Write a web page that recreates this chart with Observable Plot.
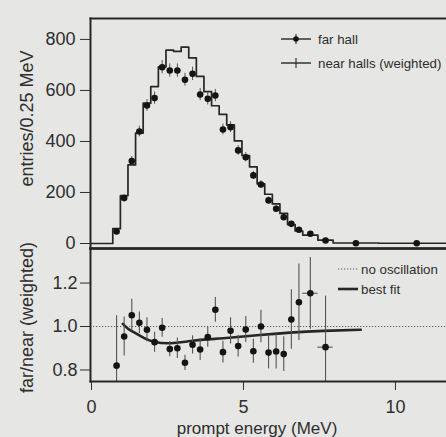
<!DOCTYPE html>
<html>
<head>
<meta charset="utf-8">
<script src="https://cdn.jsdelivr.net/npm/d3@7"></script>
<script src="https://cdn.jsdelivr.net/npm/@observablehq/plot@0.6"></script>
<style>
  html, body { margin: 0; padding: 0; background: #e6e6e4; }
  #wrap { position: relative; width: 446px; height: 437px; background: #e6e6e4; overflow: hidden; }
  #wrap > svg, #wrap > figure { position: absolute; left: 0; margin: 0; }
</style>
</head>
<body>
<div id="wrap"></div>
<script>
// ---- data ----
// near halls (weighted): step histogram, left bin edges and entries per 0.25 MeV
const nearEdges = [0, 0.7, 0.95, 1.2, 1.45, 1.7, 1.95, 2.2, 2.45, 2.7, 2.95, 3.2, 3.45, 3.7, 3.95, 4.2, 4.45, 4.7, 4.95, 5.2, 5.45, 5.7, 5.95, 6.2, 6.45, 6.7, 6.95, 7.45, 7.95, 9.45, 12];
const nearValues = [0, 58, 188, 308, 433, 550, 615, 692, 758, 753, 770, 728, 655, 595, 540, 506, 465, 402, 345, 300, 234, 193, 155, 118, 74, 49, 33, 13, 2, 1, 1];

// far hall points (bin centres), entries per 0.25 MeV, errors
const farX = [0.825, 1.075, 1.325, 1.575, 1.825, 2.075, 2.325, 2.575, 2.825, 3.075, 3.325, 3.575, 3.825, 4.075, 4.325, 4.575, 4.825, 5.075, 5.325, 5.575, 5.825, 6.075, 6.325, 6.575, 6.825, 7.2, 7.7, 8.7, 10.7];
const farValues = [47, 178, 323, 439, 541, 570, 691, 678, 678, 642, 665, 584, 567, 580, 447, 456, 365, 338, 267, 231, 169, 136, 103, 77, 54, 38, 12, 1, 1];
const farErr = [7, 13, 18, 21, 23, 24, 26, 26, 26, 25, 26, 24, 24, 24, 21, 21, 19, 18, 16, 15, 13, 12, 10, 9, 7, 6, 4, 1, 1];

// ratio far/near (weighted)
const ratioX = [0.825, 1.075, 1.325, 1.575, 1.825, 2.075, 2.325, 2.575, 2.825, 3.075, 3.325, 3.575, 3.825, 4.075, 4.325, 4.575, 4.825, 5.075, 5.325, 5.575, 5.825, 6.075, 6.325, 6.575, 6.825, 7.2, 7.7];
const ratioLo = [0.7, 0.95, 1.2, 1.45, 1.7, 1.95, 2.2, 2.45, 2.7, 2.95, 3.2, 3.45, 3.7, 3.95, 4.2, 4.45, 4.7, 4.95, 5.2, 5.45, 5.7, 5.95, 6.2, 6.45, 6.7, 6.95, 7.45];
const ratioHi = [0.95, 1.2, 1.45, 1.7, 1.95, 2.2, 2.45, 2.7, 2.95, 3.2, 3.45, 3.7, 3.95, 4.2, 4.45, 4.7, 4.95, 5.2, 5.45, 5.7, 5.95, 6.2, 6.45, 6.7, 6.95, 7.45, 7.95];
const ratioValues = [0.82, 0.954, 1.052, 1.017, 0.985, 0.928, 0.994, 0.896, 0.90, 0.833, 0.916, 0.894, 0.951, 1.077, 0.882, 0.98, 0.91, 0.986, 0.886, 1.0, 0.88, 0.885, 0.873, 1.032, 1.112, 1.153, 0.905];
const ratioErr = [0.23, 0.09, 0.073, 0.05, 0.055, 0.046, 0.043, 0.035, 0.047, 0.035, 0.042, 0.05, 0.046, 0.057, 0.05, 0.06, 0.05, 0.06, 0.055, 0.075, 0.075, 0.08, 0.08, 0.137, 0.176, 0.165, 0.235];

// best fit curve
const fitX = [1.03, 1.2, 1.39, 1.72, 2.05, 2.6, 3.26, 3.91, 4.34, 5.44, 6.53, 7.63, 8.86];
const fitY = [1.012, 0.99, 0.974, 0.948, 0.93, 0.923, 0.933, 0.942, 0.946, 0.96, 0.972, 0.98, 0.985];

// axes
const xTicks = [0, 5, 10];
const yTicksTop = [0, 200, 400, 600, 800];
const yTicksBottom = [0.8, 1.0, 1.2];

// ---- build tables ----
const nearRows = nearEdges.map((x, i) => ({x, y: nearValues[i]}));
const farRows = farX.map((x, i) => ({x, y: farValues[i], e: farErr[i]}));
const ratioRows = ratioX.map((x, i) => ({x, y: ratioValues[i], e: ratioErr[i], lo: ratioLo[i], hi: ratioHi[i]}));
const wideRows = ratioRows.filter(d => d.hi - d.lo > 0.3);
const fitRows = fitX.map((x, i) => ({x, y: fitY[i]}));

const xDomain = [-0.033, 11.68];
const ink = "#262626";
const baseStyle = {
  background: "none",
  overflow: "visible",
  fontFamily: "'Liberation Sans', Arial, sans-serif",
  fontSize: "18px",
  color: "#2e2e2e"
};

const topChart = Plot.plot({
  width: 446, height: 249,
  marginLeft: 90, marginRight: 0, marginTop: 18, marginBottom: 1,
  style: baseStyle,
  x: {domain: xDomain, axis: null},
  y: {domain: [-19.6, 882], ticks: yTicksTop, tickSize: 10, tickPadding: 5, label: null},
  marks: [
    Plot.line(nearRows, {x: "x", y: "y", curve: "step-after", stroke: ink, strokeWidth: 1.7, clip: true}),
    Plot.ruleX(farRows, {x: "x", y1: d => d.y - d.e, y2: d => d.y + d.e, stroke: "#555", strokeWidth: 1}),
    Plot.dot(farRows, {x: "x", y: "y", r: 3.3, fill: "#141414", stroke: "none"}),
    Plot.text(["entries/0.25 MeV"], {frameAnchor: "left", rotate: -90, dx: -63, dy: -15, textAnchor: "middle", lineAnchor: "middle", fontSize: 18, fill: "#2e2e2e"}),
    Plot.frame({anchor: "top", stroke: ink, strokeWidth: 2}),
    Plot.frame({anchor: "left", stroke: ink, strokeWidth: 2}),
    Plot.frame({anchor: "bottom", stroke: ink, strokeWidth: 2.4})
  ]
});
topChart.style.top = "0px";

const bottomChart = Plot.plot({
  width: 446, height: 197,
  marginLeft: 90, marginRight: 0, marginTop: 8, marginBottom: 56,
  style: baseStyle,
  x: {domain: xDomain, ticks: xTicks, tickSize: 9, tickPadding: 10, label: null},
  y: {domain: [0.747, 1.359], ticks: yTicksBottom, tickFormat: ".1f", tickSize: 10, tickPadding: 3, label: null},
  marks: [
    Plot.ruleY([1], {stroke: "#5a5a5a", strokeWidth: 1, strokeDasharray: "1.2,1.8"}),
    Plot.line(fitRows, {x: "x", y: "y", curve: "natural", stroke: ink, strokeWidth: 2.6}),
    Plot.ruleX(ratioRows, {x: "x", y1: d => d.y - d.e, y2: d => d.y + d.e, stroke: "#555", strokeWidth: 1.1, clip: true}),
    Plot.ruleY(wideRows, {y: "y", x1: "lo", x2: "hi", stroke: "#555", strokeWidth: 1.1}),
    Plot.dot(ratioRows, {x: "x", y: "y", r: 3.3, fill: "#141414", stroke: "none"}),
    Plot.text(["far/near (weighted)"], {frameAnchor: "left", rotate: -90, dx: -63, dy: 2.5, textAnchor: "middle", lineAnchor: "middle", fontSize: 18, fill: "#2e2e2e"}),
    Plot.text(["prompt energy (MeV)"], {frameAnchor: "bottom", dx: -11.5, dy: 52, textAnchor: "middle", lineAnchor: "bottom", fontSize: 17, fill: "#2e2e2e"}),
    Plot.frame({anchor: "top", stroke: ink, strokeWidth: 2}),
    Plot.frame({anchor: "left", stroke: ink, strokeWidth: 2}),
    Plot.frame({anchor: "bottom", stroke: ink, strokeWidth: 2.2})
  ]
});
bottomChart.style.top = "240px";

const wrap = document.getElementById("wrap");
wrap.appendChild(topChart);
wrap.appendChild(bottomChart);

// ---- legends (decoration) ----
const ns = "http://www.w3.org/2000/svg";
const leg = document.createElementNS(ns, "svg");
leg.setAttribute("width", 446);
leg.setAttribute("height", 437);
leg.style.position = "absolute";
leg.style.left = "0px";
leg.style.top = "0px";
leg.style.overflow = "visible";
leg.style.fontFamily = "'Liberation Sans', Arial, sans-serif";
function el(tag, attrs, text) {
  const e = document.createElementNS(ns, tag);
  for (const k in attrs) e.setAttribute(k, attrs[k]);
  if (text) e.textContent = text;
  leg.appendChild(e);
  return e;
}
const legendItems = [
  {label: "far hall", y: 39, kind: "far"},
  {label: "near halls (weighted)", y: 63, kind: "near"}
];
for (const it of legendItems) {
  el("line", {x1: 281, x2: 311, y1: it.y, y2: it.y, stroke: ink, "stroke-width": 1.4});
  el("line", {x1: 296, x2: 296, y1: it.y - 5, y2: it.y + 5, stroke: ink, "stroke-width": 1.1});
  if (it.kind === "far") el("circle", {cx: 296, cy: it.y, r: 2.8, fill: "#141414"});
  el("text", {x: 318, y: it.y, "font-size": 13.3, fill: "#2e2e2e", "dominant-baseline": "central"}, it.label);
}
el("line", {x1: 338, x2: 358, y1: 269, y2: 269, stroke: "#5a5a5a", "stroke-width": 1, "stroke-dasharray": "1.2,1.8"});
el("text", {x: 361, y: 269, "font-size": 13.3, fill: "#2e2e2e", "dominant-baseline": "central"}, "no oscillation");
el("line", {x1: 338, x2: 358, y1: 289, y2: 289, stroke: ink, "stroke-width": 2.6});
el("text", {x: 361, y: 289, "font-size": 13.3, fill: "#2e2e2e", "dominant-baseline": "central"}, "best fit");
wrap.appendChild(leg);
</script>
</body>
</html>
